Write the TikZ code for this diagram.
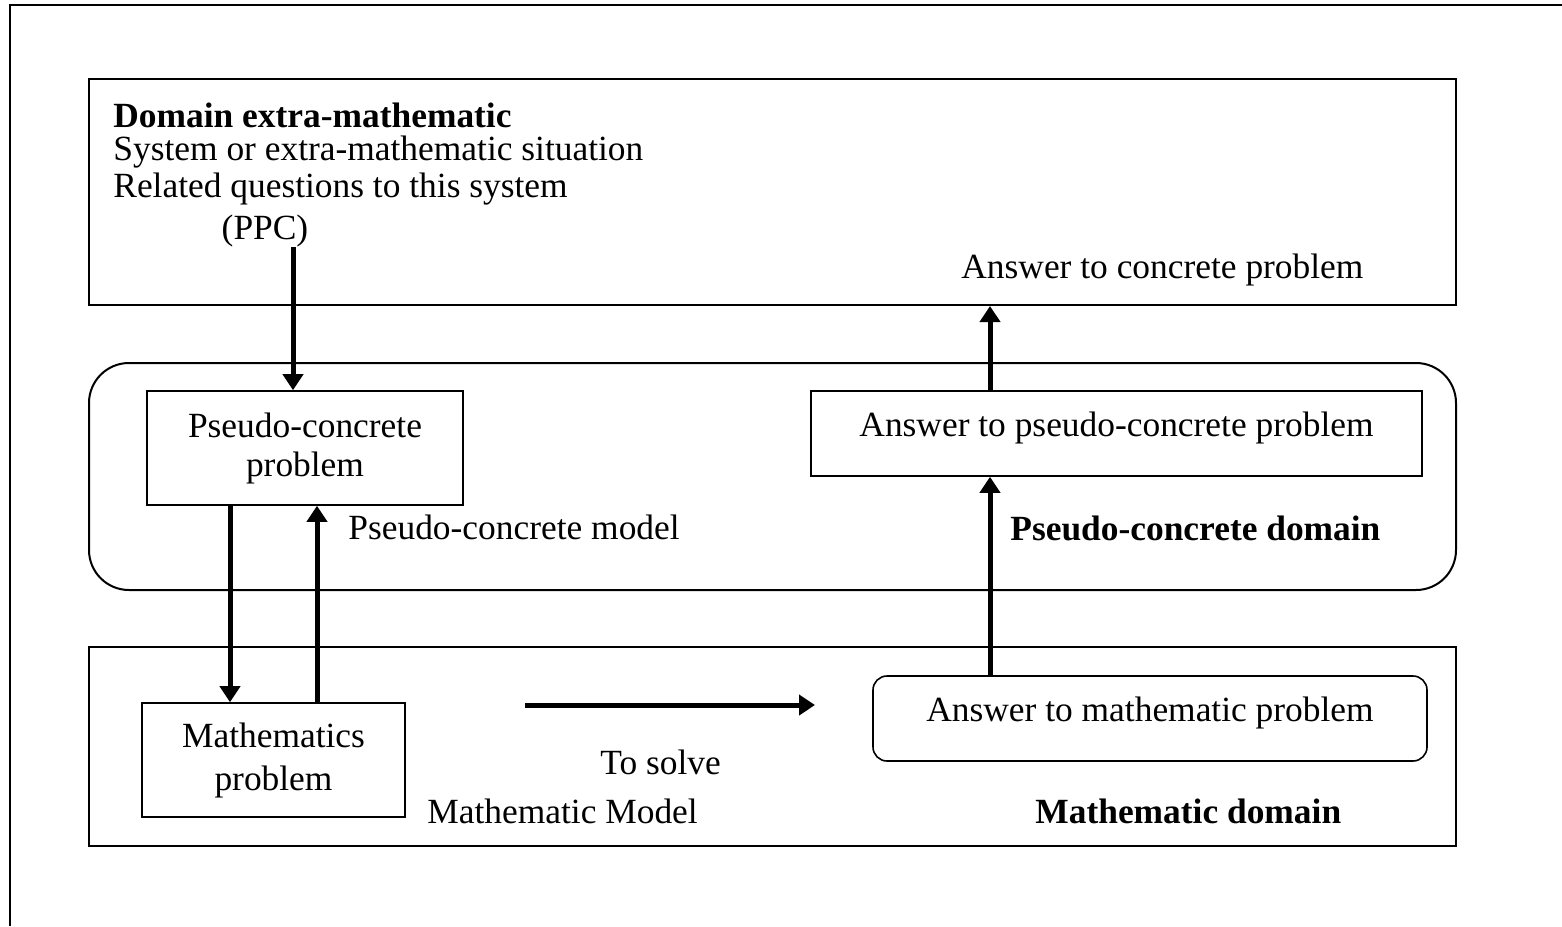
\documentclass[tikz,border=0pt]{standalone}
\usepackage{fontspec}
\setmainfont{Liberation Serif}
\usetikzlibrary{arrows.meta}
\begin{document}
\begin{tikzpicture}[x=0.5pt,y=-0.5pt,
    font=\fontsize{17.7}{19.5}\selectfont,
    area/.style={draw,line width=1pt,minimum width=683.5pt,inner sep=0pt},
    box/.style={draw,line width=0.8pt,align=center,inner sep=0pt},
    flow/.style={line width=2.5pt,-{Triangle[length=8pt,width=10pt]}},
    txt/.style={inner sep=0pt,anchor=west}]
    \useasboundingbox (0,0) rectangle (1562,926);
    \draw[line width=1pt] (10,926) -- (10,5) -- (1562,5);
    \node[area,minimum height=113pt](top)at(772.5,192){};
    \node[area,minimum height=113.5pt,rounded corners=20pt](mid)at(772.5,476.5){};
    \node[area,minimum height=99.5pt](bot)at(772.5,746.5){};
    \node[txt,font=\fontsize{17.7}{19.5}\selectfont\bfseries](dom)at(113,115){Domain extra-mathematic};
    \node[txt](sys)at(113,152){System or extra-mathematic situation};
    \node[txt](rel)at(113,189){Related questions to this system};
    \node[inner sep=0pt](ppc)at(265,231){(PPC)};
    \node[txt](acp)at(961,270){Answer to concrete problem};
    \node[box,minimum width=158pt,minimum height=57pt](pcp)at(305,448){Pseudo-concrete\\problem};
    \node[box,minimum width=305.5pt,minimum height=42.5pt,text depth=9pt](apcp)at(1116.5,433.5){Answer to pseudo-concrete problem};
    \node[txt](pcm)at(348,527){Pseudo-concrete model};
    \node[txt,font=\fontsize{17.7}{19.5}\selectfont\bfseries](pcd)at(1010,528){Pseudo-concrete domain};
    \node[box,minimum width=131.5pt,minimum height=57pt](mp)at(273.5,760){Mathematics\\[2pt]problem};
    \node[box,minimum width=277pt,minimum height=42.5pt,rounded corners=7pt,text depth=9pt](amp)at(1150,718.5){Answer to mathematic problem};
    \node[txt](solve)at(600,762){To solve};
    \node[txt](mm)at(427,811){Mathematic Model};
    \node[txt,font=\fontsize{17.7}{19.5}\selectfont\bfseries](md)at(1035,811){Mathematic domain};
    \coordinate (s1) at (525,705);
    \coordinate (s2) at (815,705);
    \draw[flow] (ppc.south -| 293,0) -- (pcp.north -| 293,0);
    \draw[flow] (pcp.south -| 230,0) -- (mp.north -| 230,0);
    \draw[flow] (mp.north -| 317,0) -- (pcp.south -| 317,0);
    \draw[flow] (s1) -- (s2);
    \draw[flow] (amp.north -| 990,0) -- (apcp.south -| 990,0);
    \draw[flow] (apcp.north -| 990,0) -- (top.south -| 990,0);
\end{tikzpicture}
\end{document}
